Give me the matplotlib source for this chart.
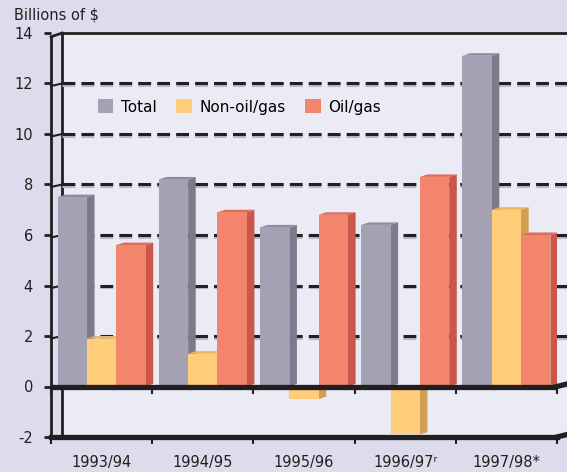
import matplotlib.pyplot as plt
import matplotlib.patches as mpatches
import numpy as np

# values, billions of $
years = ['1993/94', '1994/95', '1995/96', '1996/97\u02b3', '1997/98*']
total = [7.5, 8.2, 6.3, 6.4, 13.1]
non_oil = [1.9, 1.3, -0.5, -1.9, 7.0]
oil_gas = [5.6, 6.9, 6.8, 8.3, 6.0]

series = [('Total', total, '#a3a1b3', '#7e7a8b', '#8f8ca0'),
          ('Non-oil/gas', non_oil, '#ffcc7a', '#d29f52', '#e8b565'),
          ('Oil/gas', oil_gas, '#f2856b', '#c9584a', '#dc6d5a')]

fig = plt.figure(figsize=(5.67, 4.72), dpi=100)
fig.patch.set_facecolor('#dcdcec')
ax = fig.add_axes([51 / 567, 35 / 472, 506 / 567, 404 / 472])
ax.set_facecolor('none')
ax.set_xlim(-0.5, 4.5)
ax.set_ylim(-2, 14)

# back wall
wall_x = -0.39
ax.add_patch(mpatches.Rectangle((wall_x, -2), 5.2, 16, facecolor='#ebebf5',
                                edgecolor='none', zorder=0, clip_on=False))
ax.plot([wall_x, wall_x], [-2, 14], color='#231f20', lw=2, zorder=1)
ax.plot([wall_x, 4.8], [14, 14], color='#231f20', lw=2, zorder=1, clip_on=False)
ax.plot([-0.5, wall_x], [13.85, 14], color='#231f20', lw=2, zorder=1, clip_on=False)

# dashed grid
for g in [2, 4, 6, 8, 10, 12]:
    ax.plot([wall_x, 4.62], [g - 0.06, g - 0.06], color='#b8b8c8', lw=2.2,
            dashes=(4.2, 2.0), zorder=1, clip_on=False)
    ax.plot([wall_x, 4.62], [g, g], color='#231f20', lw=2.2, dashes=(4.2, 2.0),
            zorder=1, clip_on=False)
    ax.plot([-0.5, wall_x], [g - 0.1, g], color='#231f20', lw=1.5, zorder=1, clip_on=False)

x = np.arange(len(years))
w = 0.29
dx, dy = 0.075, 0.1
offsets = [-0.29, 0.0, 0.29]

for k, (name, vals, front, side, top) in enumerate(series):
    z = 3 + k
    for i, v in enumerate(vals):
        x0 = x[i] + offsets[k] - w / 2
        x1 = x0 + w
        ax.add_patch(mpatches.Polygon([(x1, 0), (x1 + dx, dy), (x1 + dx, v + dy), (x1, v)],
                                      closed=True, facecolor=side, edgecolor='none', zorder=z))
        if v > 0:
            ax.add_patch(mpatches.Polygon([(x0, v), (x0 + dx, v + dy), (x1 + dx, v + dy), (x1, v)],
                                          closed=True, facecolor=top, edgecolor='none', zorder=z))
    ax.bar(x + offsets[k], vals, width=w, color=front, zorder=z + 0.5, label=name)

# floor line and ticks
ax.plot([-0.5, 4.5], [0, 0], color='#231f20', lw=3.8, zorder=10)
ax.plot([4.5, 4.6], [0, 0.1], color='#231f20', lw=3.8, zorder=10, clip_on=False)
ax.plot([4.5, 4.6], [-2, -1.9], color='#231f20', lw=3.8, zorder=10, clip_on=False)
for b in np.arange(-0.5, 5.0, 1.0):
    ax.plot([b, b], [0, -0.25], color='#231f20', lw=1.5, zorder=10, clip_on=False)

for s in ['top', 'right']:
    ax.spines[s].set_visible(False)
ax.spines['left'].set_linewidth(2)
ax.spines['left'].set_color('#231f20')
ax.spines['left'].set_bounds(-2, 13.85)
ax.spines['bottom'].set_linewidth(3.8)
ax.spines['bottom'].set_color('#231f20')
ax.spines['bottom'].set_zorder(10)

ax.set_yticks(range(-2, 15, 2))
ax.set_yticklabels([str(t) for t in range(-2, 15, 2)], fontsize=10.5, color='#231f20')
ax.tick_params(axis='y', length=5, width=2, pad=8, color='#231f20')
ax.set_xticks(np.arange(-0.5, 5.0, 1.0))
ax.set_xticklabels([])
ax.tick_params(axis='x', which='major', length=5, width=1.5, color='#231f20')
ax.set_xticks(x, minor=True)
ax.set_xticklabels(years, minor=True, fontsize=10.5, color='#231f20')
ax.tick_params(axis='x', which='minor', length=0, pad=13)

fig.text(14 / 567, 1 - 15 / 472, 'Billions of $', fontsize=10.5, color='#231f20',
         va='center', ha='left')

ax.legend(loc='center left', bbox_to_anchor=(84 / 567, 1 - 107 / 472),
          bbox_transform=fig.transFigure, ncol=3, frameon=False, fontsize=11,
          handlelength=1.0, handleheight=1.0, handletextpad=0.5, columnspacing=1.3)

fig.savefig('out.png', dpi=100, facecolor=fig.get_facecolor())
